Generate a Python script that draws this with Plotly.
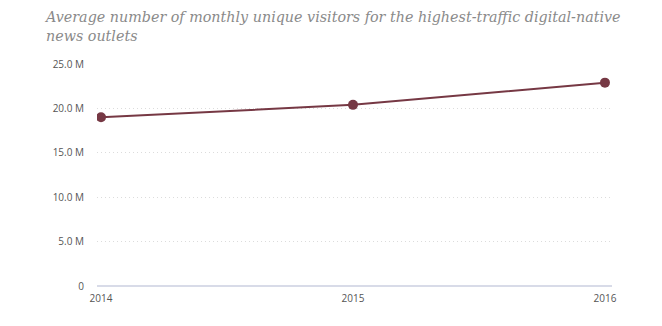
import plotly.graph_objects as go

years = [2014, 2015, 2016]
visitors = [19.0, 20.4, 22.9]  # millions
y_ticks = [0, 5, 10, 15, 20, 25]
y_labels = ["0", "5.0 M", "10.0 M", "15.0 M", "20.0 M", "25.0 M"]
x_labels = ["2014", "2015", "2016"]
title_text = ("Average number of monthly unique visitors for the highest-traffic digital-native"
              "<br>news outlets")

fig = go.Figure()
fig.add_trace(go.Scatter(
    x=years, y=visitors, mode="lines+markers",
    line=dict(color="#763844", width=2),
    marker=dict(color="#763844", size=10),
    hoverinfo="x+y",
))

fig.update_layout(
    width=662, height=326,
    margin=dict(l=97, r=50, t=64, b=40),
    paper_bgcolor="white", plot_bgcolor="white",
    showlegend=False,
    font=dict(family="Open Sans", size=10, color="#555555"),
    annotations=[dict(
        text=title_text, showarrow=False,
        xref="paper", yref="paper", x=-55 / 515, y=1.255,
        xanchor="left", yanchor="top", align="left",
        font=dict(family="DejaVu Serif", size=14.3, color="#8a8a8a", style="italic"),
    )],
)
fig.update_xaxes(
    range=[2013.984, 2016.028],
    tickvals=years, ticktext=x_labels,
    showgrid=False, zeroline=False, showline=False,
    ticks="", ticklabelstandoff=5, tickfont=dict(size=10, color="#555555"),
)
fig.update_yaxes(
    range=[0, 25],
    tickvals=y_ticks, ticktext=y_labels,
    showgrid=True, gridcolor="#dcdcdc", griddash="1px,3px", gridwidth=1,
    zeroline=True, zerolinecolor="#d8dbe8", zerolinewidth=1.5,
    ticks="", ticklabelstandoff=12, tickfont=dict(size=10, color="#555555"),
)

fig.write_html("out.html")
